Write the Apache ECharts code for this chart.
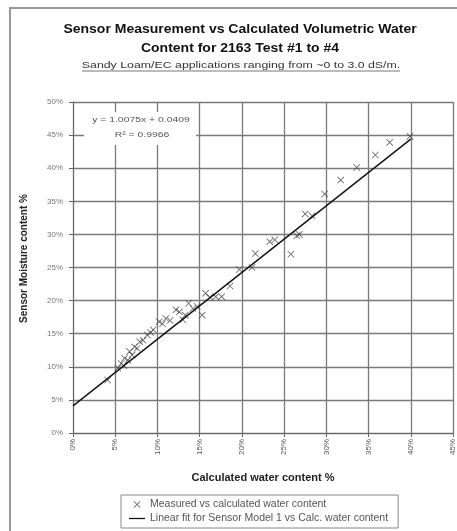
<!DOCTYPE html>
<html><head><meta charset="utf-8">
<script src="https://cdn.jsdelivr.net/npm/echarts@6/dist/echarts.min.js"></script>
<style>html,body{margin:0;padding:0;background:#fff}#c{width:457px;height:531px}</style>
</head><body><div id="c"></div>
<script>
// Data (fractions of volumetric water content)
var calcX = [0.041,0.053,0.057,0.060,0.061,0.065,0.067,0.070,0.073,0.076,0.079,0.083,0.088,0.092,0.095,0.102,0.106,0.110,0.115,0.122,0.126,0.130,0.133,0.137,0.142,0.147,0.153,0.157,0.162,0.169,0.176,0.186,0.197,0.212,0.216,0.233,0.239,0.258,0.265,0.268,0.275,0.283,0.298,0.317,0.336,0.358,0.375,0.399];
var sensorY = [0.080,0.098,0.105,0.102,0.113,0.110,0.123,0.118,0.130,0.128,0.138,0.140,0.148,0.152,0.156,0.168,0.165,0.173,0.170,0.186,0.183,0.171,0.178,0.196,0.188,0.191,0.178,0.211,0.205,0.206,0.206,0.222,0.247,0.250,0.271,0.289,0.292,0.270,0.298,0.300,0.331,0.328,0.361,0.382,0.401,0.420,0.439,0.448];
var fitX = [0, 0.40];
var slope = 1.0075, intercept = 0.0409;
var xTicks = [0,0.05,0.10,0.15,0.20,0.25,0.30,0.35,0.40,0.45];
var yTicks = [0,0.05,0.10,0.15,0.20,0.25,0.30,0.35,0.40,0.45,0.50];
var titleLines = ['Sensor Measurement vs Calculated Volumetric Water','Content for 2163 Test #1 to #4'];
var subtitle = 'Sandy Loam/EC applications ranging from ~0 to 3.0 dS/m.';
var seriesNames = ['Measured vs calculated water content','Linear fit for Sensor Model 1 vs Calc. water content'];
var eqText = ['y = 1.0075x + 0.0409','R\u00b2 = 0.9966'];

var scatterData = calcX.map(function(x,i){return [x, sensorY[i]];});
var fitData = fitX.map(function(x){return [x, slope*x+intercept];});
var pct = function(v){return Math.round(v*100)+'%';};
var X = 'path://M0,0.8L0.8,0L5,4.2L9.2,0L10,0.8L5.8,5L10,9.2L9.2,10L5,5.8L0.8,10L0,9.2L4.2,5Z';
var FONT = "'Liberation Sans', Arial, sans-serif";

var chart = echarts.init(document.getElementById('c'), null, {renderer:'canvas'});
chart.setOption({
  backgroundColor:'#fff',
  animation:false,
  textStyle:{fontFamily:FONT},
  grid:{left:73, right:0, top:102, bottom:98, containLabel:false},
  xAxis:{type:'value', min:0, max:0.45, interval:0.05,
    name:'Calculated water content %', nameLocation:'middle', nameGap:39,
    nameTextStyle:{fontSize:11, fontWeight:'bold', color:'#222', fontFamily:FONT},
    axisLine:{lineStyle:{color:'#666', width:1}},
    axisTick:{show:true, inside:false, length:4, lineStyle:{color:'#666'}},
    axisLabel:{rotate:90, fontSize:8, color:'#555', margin:6, fontFamily:FONT, formatter:function(v){return pct(v);}},
    splitLine:{show:true, lineStyle:{color:'#7a7a7a', width:1.3}}
  },
  yAxis:{type:'value', min:0, max:0.50, interval:0.05,
    name:'Sensor Moisture content %', nameLocation:'middle', nameGap:44, nameRotate:90,
    nameTextStyle:{fontSize:10, fontWeight:'bold', color:'#222', fontFamily:FONT, padding:[0,0,0,18]},
    axisLine:{show:true, lineStyle:{color:'#666', width:1}},
    axisTick:{show:true, length:4, lineStyle:{color:'#666'}},
    axisLabel:{fontSize:8, color:'#777', margin:10, fontFamily:FONT, formatter:function(v){return pct(v);}},
    splitLine:{show:true, lineStyle:{color:'#7a7a7a', width:1.3}}
  },
  legend:{orient:'vertical', left:121, top:495, width:290, height:40, padding:[4,10,4,8],
    borderColor:'#888', borderWidth:1, backgroundColor:'#fff', itemGap:3,
    itemWidth:16, itemHeight:7, textStyle:{fontSize:10.5, color:'#555', fontFamily:FONT},
    data:[{name:seriesNames[0], icon:X, itemStyle:{color:'#333'}},
          {name:seriesNames[1], icon:'path://M0,0H20V1.6H0Z', itemStyle:{color:'#111'}}]},
  series:[
    {name:seriesNames[0], type:'scatter', data:scatterData, symbol:X, symbolSize:7,
     itemStyle:{color:'#3a3a3a'}, z:3},
    {name:seriesNames[1], type:'line', data:fitData, symbol:'none', showSymbol:false,
     lineStyle:{color:'#111', width:1.4}, itemStyle:{color:'#111'}, z:4}
  ],
  graphic:[
    {type:'rect', shape:{x:10, y:8, width:470, height:540}, style:{fill:'none', stroke:'#9a9a9a', lineWidth:2}, silent:true, z:-1},
    {type:'text', x:240, y:23, style:{text:titleLines[0], fontSize:12.5, fontWeight:'bold', fill:'#111', align:'center', fontFamily:FONT}, scaleX:1.12, z:60},
    {type:'text', x:240, y:42, style:{text:titleLines[1], fontSize:12.5, fontWeight:'bold', fill:'#111', align:'center', fontFamily:FONT}, scaleX:1.12, z:60},
    {type:'text', x:241, y:61, style:{text:subtitle, fontSize:9, fill:'#333', align:'center', fontFamily:FONT}, scaleX:1.37, z:60},
    {type:'line', shape:{x1:82, y1:71, x2:400, y2:71}, style:{stroke:'#555', lineWidth:0.8}, z:60},
    {type:'rect', shape:{x:84, y:112, width:112, height:33}, style:{fill:'#fff'}, z:50},
    {type:'text', x:141, y:116, style:{text:eqText[0], fontSize:8, fill:'#555', align:'center', fontFamily:FONT}, scaleX:1.3, z:51},
    {type:'text', x:142, y:131, style:{text:eqText[1], fontSize:8, fill:'#555', align:'center', fontFamily:FONT}, scaleX:1.3, z:51}
  ]
});
</script></body></html>
